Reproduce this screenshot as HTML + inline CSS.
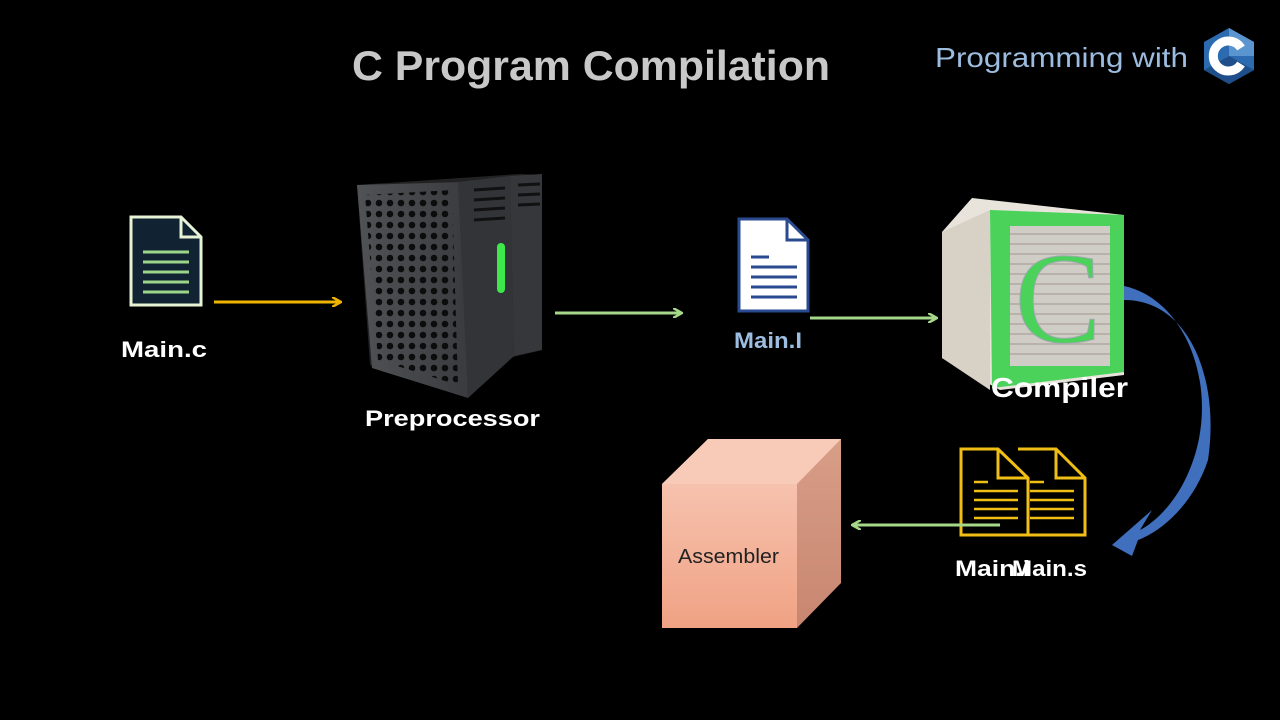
<!DOCTYPE html>
<html><head><meta charset="utf-8"><style>
html,body{margin:0;padding:0;background:#000;width:1280px;height:720px;overflow:hidden}
svg{display:block}
</style></head><body>
<svg width="1280" height="720" viewBox="0 0 1280 720" font-family="Liberation Sans, sans-serif">
<defs>
<marker id="ay" markerWidth="10" markerHeight="10" refX="8" refY="5" orient="auto" markerUnits="userSpaceOnUse"><path d="M0,0 L9,5 L0,10" fill="none" stroke="#f0b400" stroke-width="2.5"/></marker>
<marker id="ag" markerWidth="10" markerHeight="10" refX="8" refY="5" orient="auto" markerUnits="userSpaceOnUse"><path d="M0,0 L9,5 L0,10" fill="none" stroke="#a6d88a" stroke-width="2.5"/></marker>
<linearGradient id="box" x1="0" y1="0" x2="0" y2="1"><stop offset="0" stop-color="#f6c2ae"/><stop offset="1" stop-color="#f0a284"/></linearGradient>
<linearGradient id="boxs" x1="0" y1="0" x2="0" y2="1"><stop offset="0" stop-color="#d89e88"/><stop offset="1" stop-color="#c88670"/></linearGradient>
<linearGradient id="tower" x1="0" y1="0" x2="1" y2="0"><stop offset="0" stop-color="#505256"/><stop offset="1" stop-color="#3a3b3e"/></linearGradient>
<pattern id="holes" width="11" height="11" patternUnits="userSpaceOnUse"><circle cx="5" cy="5" r="3.3" fill="#0c0c0c"/></pattern>
</defs>

<text x="591" y="80" font-size="42" font-weight="bold" fill="#c8c8c8" text-anchor="middle" textLength="478" lengthAdjust="spacingAndGlyphs">C Program Compilation</text>
<text x="935" y="67" font-size="28" fill="#9cbde0" textLength="253" lengthAdjust="spacingAndGlyphs">Programming with</text>
<g transform="translate(1229,56)">
<polygon points="0,-28 25,-14 25,14 0,28 -25,14 -25,-14" fill="#2d6bb0"/>
<polygon points="0,-28 25,-14 25,0 0,0" fill="#5b95cf"/>
<polygon points="0,0 25,14 0,28 -25,14" fill="#1f4f8a"/>
<path d="M12,-8 A15,15 0 1 0 12,8" fill="none" stroke="#fff" stroke-width="9"/>
</g>

<!-- Main.c -->
<g transform="translate(131,217)">
<path d="M0,0 H50 L70,20 V88 H0 Z" fill="#123" stroke="#e8f3d6" stroke-width="3"/>
<path d="M50,0 V20 H70" fill="none" stroke="#e8f3d6" stroke-width="3"/>
<g stroke="#9bd68a" stroke-width="3"><line x1="12" y1="35" x2="58" y2="35"/><line x1="12" y1="45" x2="58" y2="45"/><line x1="12" y1="55" x2="58" y2="55"/><line x1="12" y1="65" x2="58" y2="65"/><line x1="12" y1="75" x2="58" y2="75"/></g>
</g>
<text x="121" y="357" font-size="22" font-weight="bold" fill="#fff" textLength="86" lengthAdjust="spacingAndGlyphs">Main.c</text>
<line x1="214" y1="302" x2="340" y2="302" stroke="#f0b400" stroke-width="3" marker-end="url(#ay)"/>

<!-- tower -->
<g>
<polygon points="357,185 460,178 520,174 542,175 542,350 500,360 470,395 370,365" fill="#222"/>
<polygon points="357,185 462,182 468,398 372,368" fill="url(#tower)"/>
<polygon points="458,182 510,176 514,356 468,398" fill="#333438"/>
<polygon points="510,176 542,174 542,350 514,356" fill="#36373a"/>
<polygon points="365,195 452,190 458,385 378,360" fill="url(#holes)"/>
<g stroke="#111" stroke-width="3"><line x1="474" y1="190" x2="505" y2="188"/><line x1="474" y1="200" x2="505" y2="198"/><line x1="474" y1="210" x2="505" y2="208"/><line x1="474" y1="220" x2="505" y2="218"/><line x1="518" y1="185" x2="540" y2="184"/><line x1="518" y1="195" x2="540" y2="194"/><line x1="518" y1="205" x2="540" y2="204"/></g>
<rect x="497" y="243" width="8" height="50" rx="4" fill="#3ee84a"/>
</g>
<text x="365" y="426" font-size="22" font-weight="bold" fill="#fff" textLength="175" lengthAdjust="spacingAndGlyphs">Preprocessor</text>
<line x1="555" y1="313" x2="681" y2="313" stroke="#a6d88a" stroke-width="3" marker-end="url(#ag)"/>

<!-- Main.i -->
<g transform="translate(739,219)">
<path d="M0,0 H48 L69,21 V92 H0 Z" fill="#fff" stroke="#2a4a90" stroke-width="3"/>
<path d="M48,0 V21 H69" fill="none" stroke="#2a4a90" stroke-width="3"/>
<g stroke="#2a4a90" stroke-width="3"><line x1="12" y1="38" x2="30" y2="38"/><line x1="12" y1="48" x2="58" y2="48"/><line x1="12" y1="58" x2="58" y2="58"/><line x1="12" y1="68" x2="58" y2="68"/><line x1="12" y1="78" x2="58" y2="78"/></g>
</g>
<text x="734" y="348" font-size="22" font-weight="bold" fill="#9cbde0" textLength="68" lengthAdjust="spacingAndGlyphs">Main.I</text>
<line x1="810" y1="318" x2="936" y2="318" stroke="#a6d88a" stroke-width="3" marker-end="url(#ag)"/>

<!-- compiler block -->
<g>
<polygon points="942,232 972,198 1124,215 1124,375 1000,390 942,358" fill="#e8e4dc"/>
<polygon points="942,232 990,210 990,390 942,358" fill="#d8d2c6"/>
<polygon points="990,210 1124,215 1124,372 992,388" fill="#4ad25a"/>
<rect x="1010" y="226" width="100" height="140" fill="#d0ccc6"/>
<g stroke="#b8b2aa" stroke-width="2">
<line x1="1010" y1="234" x2="1110" y2="234"/><line x1="1010" y1="244" x2="1110" y2="244"/><line x1="1010" y1="254" x2="1110" y2="254"/><line x1="1010" y1="264" x2="1110" y2="264"/><line x1="1010" y1="274" x2="1110" y2="274"/><line x1="1010" y1="284" x2="1110" y2="284"/><line x1="1010" y1="294" x2="1110" y2="294"/><line x1="1010" y1="304" x2="1110" y2="304"/><line x1="1010" y1="314" x2="1110" y2="314"/><line x1="1010" y1="324" x2="1110" y2="324"/><line x1="1010" y1="334" x2="1110" y2="334"/><line x1="1010" y1="344" x2="1110" y2="344"/><line x1="1010" y1="354" x2="1110" y2="354"/></g>
<text x="1058" y="342" font-size="130" fill="#4ad25a" stroke="#9aa" stroke-width="1" style="font-family:'Liberation Serif',serif" text-anchor="middle">C</text>
</g>
<text x="991" y="397" font-size="28" font-weight="bold" fill="#fff" textLength="137" lengthAdjust="spacingAndGlyphs">Compiler</text>

<!-- blue curved arrow -->
<path d="M1124,286 C1190,300 1225,400 1185,480 C1170,510 1150,525 1140,530 L1152,510 L1112,545 L1132,556 L1138,540 C1165,530 1195,500 1208,460 C1220,380 1190,300 1124,300 Z" fill="#3f6fbd"/>

<!-- Main.s docs -->
<g fill="none" stroke="#f0be14" stroke-width="3">
<path d="M961,449 H998 L1028,478 V535 H961 Z"/><path d="M998,449 V478 H1028"/>
<path d="M1018,449 H1056 L1085,478 V535 H1020"/><path d="M1056,449 V478 H1085"/>
<g stroke-width="2.5"><line x1="974" y1="482" x2="988" y2="482"/><line x1="974" y1="491" x2="1018" y2="491"/><line x1="974" y1="500" x2="1018" y2="500"/><line x1="974" y1="509" x2="1018" y2="509"/><line x1="974" y1="518" x2="1018" y2="518"/>
<line x1="1030" y1="482" x2="1044" y2="482"/><line x1="1030" y1="491" x2="1074" y2="491"/><line x1="1030" y1="500" x2="1074" y2="500"/><line x1="1030" y1="509" x2="1074" y2="509"/><line x1="1030" y1="518" x2="1074" y2="518"/></g>
</g>
<text x="955" y="576" font-size="22" font-weight="bold" fill="#fff" textLength="75" lengthAdjust="spacingAndGlyphs">Main.i</text>
<text x="1012" y="576" font-size="22" font-weight="bold" fill="#fff" textLength="75" lengthAdjust="spacingAndGlyphs">Main.s</text>
<line x1="1000" y1="525" x2="853" y2="525" stroke="#a6d88a" stroke-width="3" marker-end="url(#ag)"/>

<!-- assembler cube -->
<polygon points="662,484 708,439 841,439 841,583 797,628 797,484" fill="url(#boxs)"/>
<polygon points="662,484 708,439 841,439 797,484" fill="#f7cbb8"/>
<rect x="662" y="484" width="135" height="144" fill="url(#box)"/>
<text x="678" y="563" font-size="20" fill="#222" textLength="101" lengthAdjust="spacingAndGlyphs">Assembler</text>
</svg>
</body></html>
